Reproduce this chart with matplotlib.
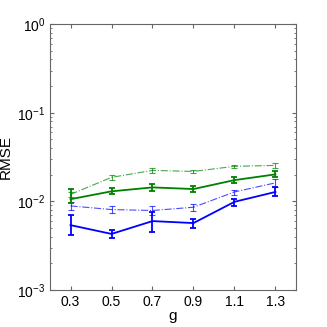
import matplotlib
matplotlib.use("Agg")
import matplotlib.pyplot as plt
import numpy as np

plt.rcParams["font.family"] = ["Liberation Sans", "DejaVu Sans"]
plt.rcParams["mathtext.fontset"] = "custom"
plt.rcParams["mathtext.rm"] = "Liberation Sans"
plt.rcParams["mathtext.it"] = "Liberation Sans"

g = [0.3, 0.5, 0.7, 0.9, 1.1, 1.3]

blue_solid = [0.0054, 0.0043, 0.0060, 0.0057, 0.0099, 0.0128]
blue_solid_lo = [0.0042, 0.0039, 0.0045, 0.0050, 0.0089, 0.0114]
blue_solid_hi = [0.0070, 0.0047, 0.0076, 0.0063, 0.0107, 0.0147]

blue_dash = [0.0089, 0.0081, 0.0079, 0.0086, 0.0128, 0.0162]
blue_dash_lo = [0.0080, 0.0075, 0.0071, 0.0078, 0.0119, 0.0147]
blue_dash_hi = [0.0099, 0.0089, 0.0088, 0.0094, 0.0136, 0.0178]

green_solid = [0.0106, 0.0130, 0.0144, 0.0138, 0.0174, 0.0202]
green_solid_lo = [0.0095, 0.0121, 0.0132, 0.0127, 0.0163, 0.0187]
green_solid_hi = [0.0139, 0.0140, 0.0158, 0.0150, 0.0187, 0.0218]

green_dash = [0.0120, 0.0187, 0.0224, 0.0218, 0.0249, 0.0255]
green_dash_lo = [0.0112, 0.0176, 0.0211, 0.0207, 0.0240, 0.0239]
green_dash_hi = [0.0128, 0.0200, 0.0236, 0.0229, 0.0258, 0.0270]

BLUE = "#0000ff"
GREEN = "#008000"


def draw(ax, y, lo, hi, color, ls, lw, alpha):
    y = np.asarray(y)
    err = [y - np.asarray(lo), np.asarray(hi) - y]
    ax.errorbar(g, y, yerr=err, color=color, linestyle=ls, linewidth=lw,
                elinewidth=lw, capsize=2.5, capthick=lw, alpha=alpha)


fig = plt.figure(figsize=(3.27, 3.27), dpi=100, facecolor="white")
ax = fig.add_axes([0.153, 0.113, 0.752, 0.813])

draw(ax, green_dash, green_dash_lo, green_dash_hi, GREEN, "-.", 0.8, 0.7)
draw(ax, blue_dash, blue_dash_lo, blue_dash_hi, BLUE, "-.", 0.8, 0.7)
draw(ax, green_solid, green_solid_lo, green_solid_hi, GREEN, "-", 1.3, 1.0)
draw(ax, blue_solid, blue_solid_lo, blue_solid_hi, BLUE, "-", 1.3, 1.0)

ax.set_yscale("log")
ax.set_ylim(1e-3, 1e0)
ax.set_xlim(0.2, 1.4)
ax.set_xticks(g)
ax.set_xticklabels([f"{v:.1f}" for v in g])
ax.set_yticks([1e-3, 1e-2, 1e-1, 1e0])
ax.set_yticklabels([r"$10^{-3}$", r"$10^{-2}$", r"$10^{-1}$", r"$10^{0}$"])

ax.tick_params(which="both", direction="in", top=True, right=True,
               labelsize=10, color="#666666")
ax.tick_params(which="major", length=3)
ax.tick_params(which="minor", length=1.5)
for s in ax.spines.values():
    s.set_color("#666666")
    s.set_linewidth(0.8)

ax.set_xlabel("g", fontsize=11, labelpad=0)
ax.set_ylabel("RMSE", fontsize=11, labelpad=3)

fig.savefig("out.png", dpi=100)
